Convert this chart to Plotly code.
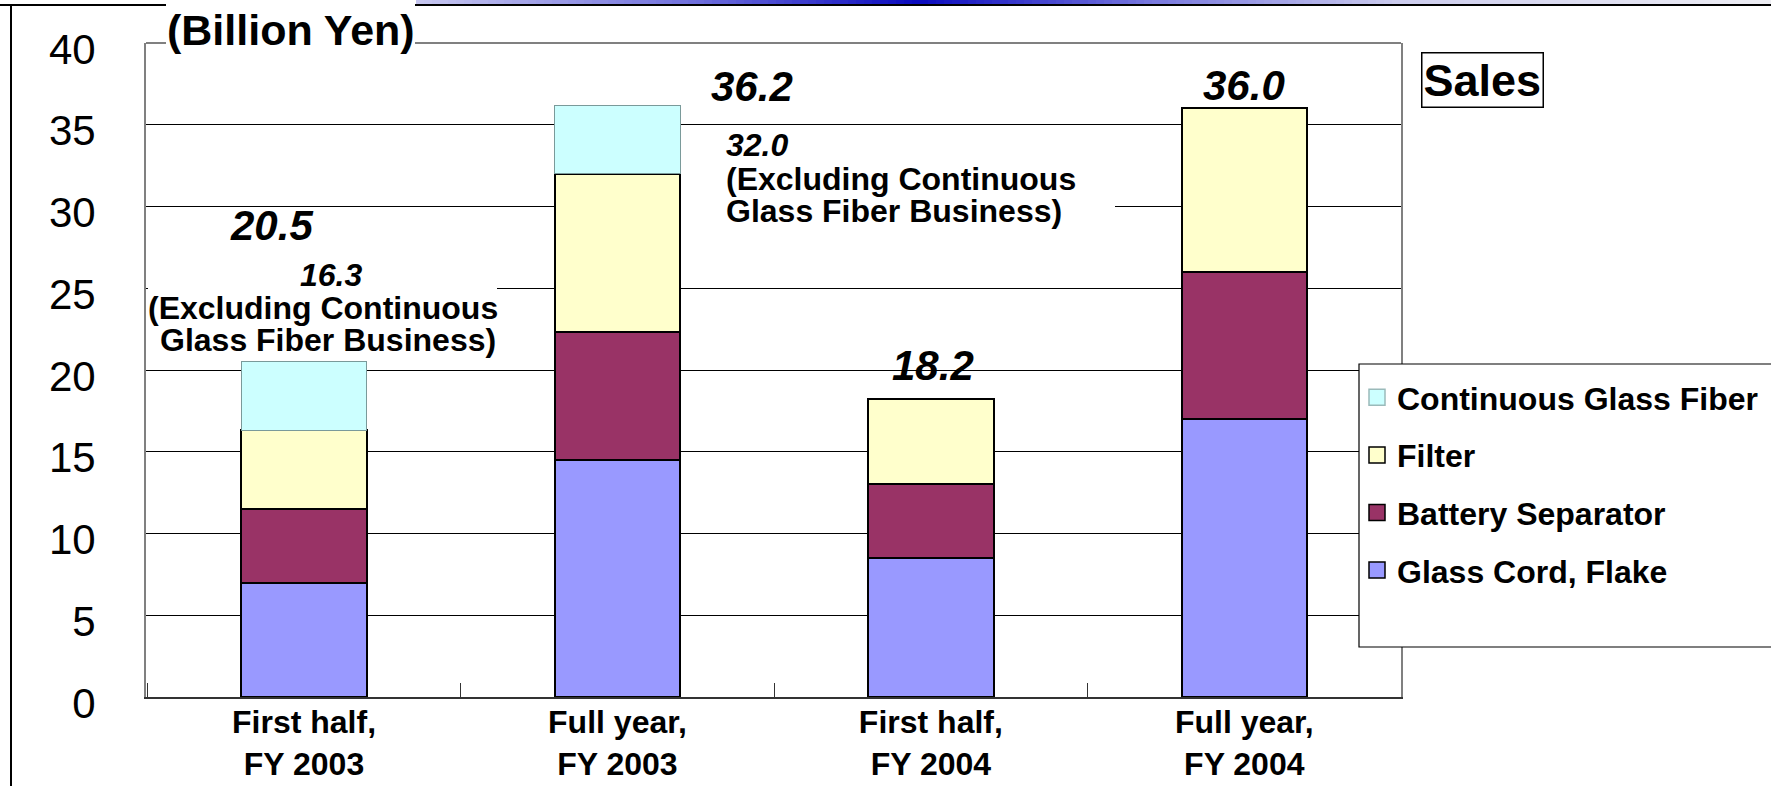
import plotly.graph_objects as go

# ---------------- data ----------------
categories = ["First half,<br>FY 2003", "Full year,<br>FY 2003",
              "First half,<br>FY 2004", "Full year,<br>FY 2004"]
glass_cord = [7.0, 14.5, 8.5, 17.0]
battery_separator = [4.5, 7.8, 4.5, 9.0]
filter_sales = [4.8, 9.7, 5.2, 10.0]
continuous_glass_fiber = [4.2, 4.2, None, None]
y_tick_values = [0, 5, 10, 15, 20, 25, 30, 35, 40]
series_names = ["Glass Cord, Flake", "Battery Separator", "Filter", "Continuous Glass Fiber"]
unit_label = "(Billion Yen)"
chart_title = "Sales"
excl_note = ["(Excluding Continuous", "Glass Fiber Business)"]

# ---------------- geometry helpers ----------------
W, H = 1771, 786
L, R, T, B = 146, 1401, 43, 697   # plot area in pixels
FONT = "Liberation Sans, Arial, Helvetica, sans-serif"


def px(x):
    return (x - L) / (R - L)


def py(y):
    return (B - y) / (B - T)


excl_totals = [round(g + b + f, 1) for g, b, f in zip(glass_cord, battery_separator, filter_sales)]
totals = [round(e + (c or 0), 1) for e, c in zip(excl_totals, continuous_glass_fiber)]

fills = ["#9999FF", "#993366", "#FFFFCC", "#CCFFFF"]
outlines = ["black", "black", "black", "#7a9a9a"]
outline_w = [2, 2, 2, 1]
values = [glass_cord, battery_separator, filter_sales, continuous_glass_fiber]

fig = go.Figure()
for name, vals, fc, lc, lw in zip(series_names, values, fills, outlines, outline_w):
    fig.add_trace(go.Bar(x=categories, y=vals, name=name, width=0.4,
                         marker=dict(color=fc, line=dict(color=lc, width=lw)),
                         showlegend=False, hoverinfo="y+name"))

# legend entries (top to bottom)
for name, fc, lc in reversed(list(zip(series_names, fills, outlines))):
    fig.add_trace(go.Scatter(x=[None], y=[None], mode="markers", name=name,
                             legendgroup=name,
                             marker=dict(symbol="square", size=16, color=fc,
                                         line=dict(color=lc if lc != "#7a9a9a" else "#9ababa", width=1.5))))

annotations = []
# total labels (bold italic)
total_shift = [(-33, 136), (135, 19), (2, 34), (0, 23)]
for i, (cat, tot) in enumerate(zip(categories, totals)):
    dx, dy = total_shift[i]
    annotations.append(dict(x=cat, y=tot, xref="x", yref="y", text=f"<b><i>{tot:.1f}</i></b>",
                            showarrow=False, xshift=dx, yshift=dy, yanchor="middle",
                            font=dict(family=FONT, size=42, color="black")))

# "excluding" notes
# first half FY2003 (centered)
note_left = [(f"<b><i>{excl_totals[0]:.1f}</i></b>", 27, 155),
             (f"<b>{excl_note[0]}</b>", 19, 122),
             (f"<b>{excl_note[1]}</b>", 24, 90)]
for txt, dx, dy in note_left:
    annotations.append(dict(x=categories[0], y=excl_totals[0], xref="x", yref="y", text=txt,
                            showarrow=False, xshift=dx, yshift=dy, xanchor="center", yanchor="middle",
                            font=dict(family=FONT, size=32, color="black")))
# full year FY2003 (left aligned)
note_right = [(f"<b><i>{excl_totals[1]:.1f}</i></b>", 107, 29),
              (f"<b>{excl_note[0]}</b>", 107, -5),
              (f"<b>{excl_note[1]}</b>", 107, -37)]
for txt, dx, dy in note_right:
    annotations.append(dict(x=categories[1], y=excl_totals[1], xref="x", yref="y", text=txt,
                            showarrow=False, xshift=dx, yshift=dy, xanchor="left", yanchor="middle",
                            font=dict(family=FONT, size=32, color="black")))

# unit label and title
annotations.append(dict(x=px(291), y=py(30), xref="paper", yref="paper", text=f"<b>{unit_label}</b>",
                        showarrow=False, xanchor="center", yanchor="middle",
                        font=dict(family=FONT, size=43, color="black")))
annotations.append(dict(x=px(1482), y=py(80), xref="paper", yref="paper", text=f"<b>{chart_title}</b>",
                        showarrow=False, xanchor="center", yanchor="middle",
                        bordercolor="black", borderwidth=1.5, borderpad=1, bgcolor="white",
                        font=dict(family=FONT, size=45, color="black")))

shapes = []
# slide decoration: gradient strip at top
stops = [(416, (200, 200, 240)), (700, (110, 110, 220)), (916, (10, 10, 190)),
         (1150, (120, 120, 222)), (1400, (205, 205, 238)), (1771, (238, 238, 244))]
seg = 8
x = 416
while x < 1771:
    xm = x + seg / 2
    for (a, ca), (b, cb) in zip(stops[:-1], stops[1:]):
        if a <= xm <= b:
            t = (xm - a) / (b - a)
            c = tuple(int(ca[k] + (cb[k] - ca[k]) * t) for k in range(3))
            break
    shapes.append(dict(type="rect", xref="paper", yref="paper", x0=px(x), x1=px(min(x + seg + 1, 1772)),
                       y0=py(4), y1=py(-1), fillcolor=f"rgb{c}", line=dict(width=0), layer="above"))
    x += seg
# slide frame lines
shapes.append(dict(type="line", xref="paper", yref="paper", x0=px(0), x1=px(1771), y0=py(5), y1=py(5),
                   line=dict(color="black", width=2), layer="above"))
shapes.append(dict(type="line", xref="paper", yref="paper", x0=px(11), x1=px(11), y0=py(4), y1=py(790),
                   line=dict(color="black", width=2), layer="above"))
# plot top border
shapes.append(dict(type="line", xref="paper", yref="paper", x0=0, x1=1, y0=1, y1=1,
                   line=dict(color="#808080", width=2), layer="above"))
# white box behind unit label
shapes.append(dict(type="rect", xref="paper", yref="paper", x0=px(166), x1=px(415), y0=py(47), y1=py(-5),
                   fillcolor="white", line=dict(width=0), layer="above"))
# white boxes behind notes
shapes.append(dict(type="rect", xref="paper", yref="paper", x0=px(148), x1=px(497), y0=py(352), y1=py(258),
                   fillcolor="white", line=dict(width=0), layer="above"))
shapes.append(dict(type="rect", xref="paper", yref="paper", x0=px(681), x1=px(1115), y0=py(224), y1=py(130),
                   fillcolor="white", line=dict(width=0), layer="above"))
# legend box
shapes.append(dict(type="rect", xref="paper", yref="paper", x0=px(1359), x1=px(1800), y0=py(647), y1=py(364),
                   fillcolor="white", line=dict(color="black", width=1.2), layer="above"))

fig.update_layout(
    width=W, height=H, autosize=False,
    margin=dict(l=L, r=W - R, t=T, b=H - B, pad=0, autoexpand=False),
    paper_bgcolor="white", plot_bgcolor="white",
    barmode="stack", bargap=0.6,
    font=dict(family=FONT, color="black"),
    showlegend=True,
    legend=dict(x=px(1357), y=py(370), xanchor="left", yanchor="top",
                bgcolor="rgba(0,0,0,0)", borderwidth=0, traceorder="grouped", tracegroupgap=13,
                font=dict(family=FONT, size=32, color="black", weight="bold")),
    xaxis=dict(type="category", showline=True, linecolor="#333333", linewidth=2,
               ticks="inside", tickson="boundaries", ticklen=14, tickcolor="#333333", tickwidth=1,
               showgrid=False, automargin=False, ticklabelstandoff=-4,
               tickfont=dict(family=FONT, size=32, color="black", weight="bold")),
    yaxis=dict(range=[0, 40], tickvals=y_tick_values, showline=True, linecolor="#808080", linewidth=2,
               mirror=True, showgrid=True, gridcolor="black", gridwidth=1, zeroline=False,
               ticks="", ticklabelstandoff=40, ticklabelshift=6, automargin=False,
               tickfont=dict(family=FONT, size=42, color="black")),
    annotations=annotations,
    shapes=shapes,
)

fig.write_html("out.html", config={"displayModeBar": False},
               post_script="document.body.style.margin='0';document.body.style.overflow='hidden';")
